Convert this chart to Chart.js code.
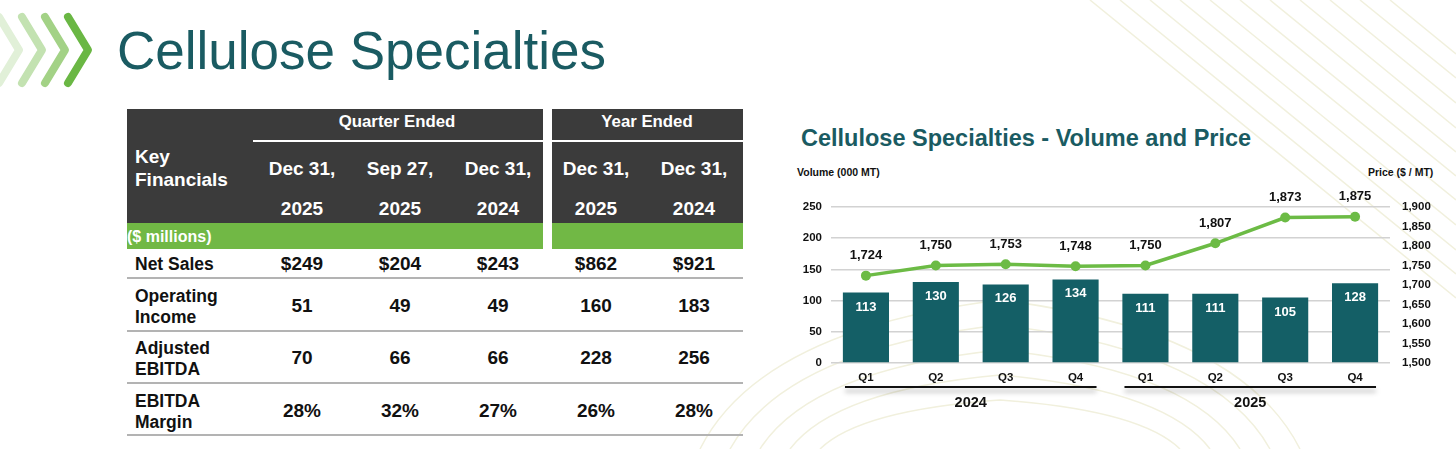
<!DOCTYPE html>
<html>
<head>
<meta charset="utf-8">
<script src="https://cdn.jsdelivr.net/npm/chart.js@4/dist/chart.umd.min.js"></script>
<style>
  html, body { margin:0; padding:0; }
  body { width:1456px; height:449px; position:relative; overflow:hidden; background:#fff;
         font-family:"Liberation Sans", Arial, sans-serif; }
  .abs { position:absolute; }
  .title { left:117px; top:21px; font-size:53px; color:#1a5b62; line-height:60px; white-space:nowrap; }
  .dark { background:#3b3b3b; }
  .green { background:#71b845; }
  .wline { background:#fff; height:2px; }
  .hdr { color:#fff; font-weight:bold; white-space:nowrap; transform:translate(-50%,-50%); }
  .cell { color:#111; font-weight:bold; white-space:nowrap; transform:translate(-50%,-50%); font-size:19px; }
  .lbl { color:#111; font-weight:bold; font-size:17.5px; line-height:20.5px; left:135px; transform:translateY(-50%); white-space:nowrap; }
  .rule { background:#b3b3b3; height:2px; left:127px; width:616px; }
  #chartTitle { left:801px; top:124px; font-size:23.5px; font-weight:bold; color:#1a5b62; white-space:nowrap; line-height:28px; }
  .axt { font-size:10.5px; font-weight:bold; color:#111; white-space:nowrap; transform:translateY(-50%); }
  #c { position:absolute; left:780px; top:150px; }
</style>
</head>
<body>
<svg class="abs" style="left:0;top:0" width="1456" height="449">
  <g fill="none" stroke="#f1f0dd" stroke-width="1.5">
    <path d="M1150,0 L1456,250"/><path d="M1180,0 L1456,225"/><path d="M1210,0 L1456,200"/>
    <path d="M1240,0 L1456,176"/><path d="M1270,0 L1456,152"/><path d="M1300,0 L1456,128"/>
    <path d="M1330,0 L1456,103"/><path d="M1360,0 L1456,78"/><path d="M1390,0 L1456,54"/>
    <path d="M1120,0 L1456,274"/><path d="M1090,0 L1456,298"/>
    <path d="M700,449 Q760,330 1000,300 Q1240,330 1300,449"/>
    <path d="M730,449 Q785,350 1000,325 Q1215,350 1270,449"/>
    <path d="M760,449 Q810,370 1000,350 Q1190,370 1240,449"/>
    <path d="M790,449 Q835,390 1000,375 Q1165,390 1210,449"/>
    <path d="M820,449 Q860,410 1000,400 Q1140,410 1180,449"/>
  </g>
</svg>
<svg class="abs" style="left:0;top:0" width="130" height="100">
  <g fill="none" stroke-width="8" stroke-linecap="round" stroke-linejoin="round">
    <polyline points="-1,17 19,50 -1,83" stroke="#e1f0d8"/>
    <polyline points="22,17 42,50 22,83" stroke="#c3e2b1"/>
    <polyline points="45,17 65,50 45,83" stroke="#a3d286"/>
    <polyline points="68,17 88,50 68,83" stroke="#6ab744"/>
  </g>
</svg>
<div class="abs title">Cellulose Specialties</div>

<!-- table -->
<div class="abs dark" style="left:127px;top:109px;width:416px;height:114px"></div>
<div class="abs dark" style="left:552px;top:109px;width:191px;height:114px"></div>
<div class="abs wline" style="left:253px;top:140px;width:290px"></div>
<div class="abs wline" style="left:552px;top:140px;width:191px"></div>
<div class="abs green" style="left:127px;top:223px;width:416px;height:26px"></div>
<div class="abs green" style="left:552px;top:223px;width:191px;height:26px"></div>

<div class="abs hdr" style="left:397px;top:122px;font-size:16.8px">Quarter Ended</div>
<div class="abs hdr" style="left:647px;top:122px;font-size:16.8px">Year Ended</div>
<div class="abs" style="left:135px;top:146px;color:#fff;font-weight:bold;font-size:19px;line-height:22.5px">Key<br>Financials</div>
<div class="abs" style="left:127px;top:237px;color:#fff;font-weight:bold;font-size:16px;transform:translateY(-50%)">($ millions)</div>

<div id="tbl"></div>

<div class="abs" id="chartTitle">Cellulose Specialties - Volume and Price</div>
<div class="abs axt" style="left:797px;top:172px">Volume (000 MT)</div>
<div class="abs axt" style="left:1368px;top:172px">Price ($ / MT)</div>
<canvas id="c" width="676" height="299" style="width:676px;height:299px"></canvas>

<script>
// ---- Table data ----
const colDates = ['Dec 31,', 'Sep 27,', 'Dec 31,', 'Dec 31,', 'Dec 31,'];
const colYears = ['2025', '2025', '2024', '2025', '2024'];
const rowLabels = [['Net Sales'], ['Operating', 'Income'], ['Adjusted', 'EBITDA'], ['EBITDA', 'Margin']];
const netSales = ['$249', '$204', '$243', '$862', '$921'];
const operatingIncome = ['51', '49', '49', '160', '183'];
const adjustedEbitda = ['70', '66', '66', '228', '256'];
const ebitdaMargin = ['28%', '32%', '27%', '26%', '28%'];

// ---- Chart data ----
const quarters = ['Q1', 'Q2', 'Q3', 'Q4', 'Q1', 'Q2', 'Q3', 'Q4'];
const years = ['2024', '2025'];
const volume = [113, 130, 126, 134, 111, 111, 105, 128];
const price = [1724, 1750, 1753, 1748, 1750, 1807, 1873, 1875];
const volumeTicks = [0, 50, 100, 150, 200, 250];
const priceTicks = [1500, 1550, 1600, 1650, 1700, 1750, 1800, 1850, 1900];

// ---- Build table ----
(function () {
  const host = document.getElementById('tbl');
  const colX = [302, 400, 498, 596, 694];
  const add = (cls, style, txt) => {
    const d = document.createElement('div');
    d.className = 'abs ' + cls;
    d.setAttribute('style', style);
    d.innerHTML = txt;
    host.appendChild(d);
  };
  colX.forEach((x, i) => {
    add('hdr', `left:${x}px;top:169px;font-size:19px`, colDates[i]);
    add('hdr', `left:${x}px;top:209px;font-size:19px`, colYears[i]);
  });
  const rows = [netSales, operatingIncome, adjustedEbitda, ebitdaMargin];
  const rowY = [264, 306, 358, 411];
  const ruleY = [277, 330, 382, 434];
  rows.forEach((vals, r) => {
    add('lbl', `top:${rowY[r]}px`, rowLabels[r].join('<br>'));
    vals.forEach((v, i) => add('cell', `left:${colX[i]}px;top:${rowY[r]}px`, v));
    add('rule', `top:${ruleY[r]}px`, '');
  });
})();

// ---- Chart ----
const FONT = '"Liberation Sans", Arial, sans-serif';
Chart.defaults.font.family = FONT;

const valueLabels = {
  id: 'valueLabels',
  afterDatasetsDraw(chart) {
    const ctx = chart.ctx;
    ctx.save();
    ctx.textAlign = 'center';
    ctx.textBaseline = 'middle';
    const barMeta = chart.getDatasetMeta(0);
    ctx.font = 'bold 13px ' + FONT;
    ctx.fillStyle = '#ffffff';
    barMeta.data.forEach((el, i) => ctx.fillText(String(volume[i]), el.x, el.y + 14.5));
    const lineMeta = chart.getDatasetMeta(1);
    ctx.fillStyle = '#111111';
    lineMeta.data.forEach((el, i) => ctx.fillText(price[i].toLocaleString('en-US'), el.x, el.y - 20));
    ctx.restore();
  }
};

const yearGroups = {
  id: 'yearGroups',
  afterDraw(chart) {
    const ctx = chart.ctx;
    const xs = chart.scales.x;
    const per = quarters.length / years.length;
    const step = xs.getPixelForValue(1) - xs.getPixelForValue(0);
    const yLine = chart.chartArea.bottom + 24;
    const yText = chart.chartArea.bottom + 40;
    years.forEach((yr, g) => {
      const x0 = xs.getPixelForValue(g * per) - step * 0.3;
      const x1 = xs.getPixelForValue(g * per + per - 1) + step * 0.3;
      ctx.save();
      ctx.shadowColor = 'rgba(0,0,0,0.35)';
      ctx.shadowBlur = 5;
      ctx.shadowOffsetY = 4;
      ctx.strokeStyle = '#111';
      ctx.lineWidth = 2;
      ctx.beginPath();
      ctx.moveTo(x0, yLine);
      ctx.lineTo(x1, yLine);
      ctx.stroke();
      ctx.restore();
      ctx.save();
      ctx.font = 'bold 14.5px ' + FONT;
      ctx.fillStyle = '#111';
      ctx.textAlign = 'center';
      ctx.textBaseline = 'middle';
      ctx.fillText(yr, (x0 + x1) / 2, yText);
      ctx.restore();
    });
  }
};

new Chart(document.getElementById('c'), {
  data: {
    labels: quarters,
    datasets: [
      {
        type: 'bar',
        data: volume,
        yAxisID: 'y',
        backgroundColor: '#145f66',
        barPercentage: 0.66,
        categoryPercentage: 1.0,
        order: 1
      },
      {
        type: 'line',
        data: price,
        yAxisID: 'y1',
        borderColor: '#6cbb45',
        backgroundColor: '#6cbb45',
        borderWidth: 3.5,
        pointRadius: 5,
        pointBorderWidth: 0,
        pointBackgroundColor: '#6cbb45',
        tension: 0,
        order: 0
      }
    ]
  },
  options: {
    responsive: false,
    animation: false,
    devicePixelRatio: 1,
    layout: { padding: { top: 57, left: 0, right: 0, bottom: 0 } },
    plugins: { legend: { display: false }, tooltip: { enabled: false } },
    scales: {
      x: {
        grid: { display: false, drawTicks: false },
        border: { display: false },
        ticks: { color: '#111', font: { weight: 'bold', size: 11.5 }, padding: 8, maxRotation: 0 },
        afterFit(s) { s.height = 86; }
      },
      y: {
        position: 'left',
        min: 0, max: 250,
        afterBuildTicks(s) { s.ticks = volumeTicks.map(v => ({ value: v })); },
        ticks: { color: '#111', font: { weight: 'bold', size: 11.5 }, padding: 9 },
        grid: { color: '#d2d2d2', lineWidth: 1.5, drawTicks: false },
        border: { display: false },
        afterFit(s) { s.width = 51; }
      },
      y1: {
        position: 'right',
        min: 1500, max: 1900,
        afterBuildTicks(s) { s.ticks = priceTicks.map(v => ({ value: v })); },
        ticks: { color: '#111', font: { weight: 'bold', size: 11.5 }, padding: 12,
                 callback: v => Number(v).toLocaleString('en-US') },
        grid: { display: false, drawTicks: false },
        border: { display: false },
        afterFit(s) { s.width = 66; }
      }
    }
  },
  plugins: [valueLabels, yearGroups]
});
</script>
</body>
</html>
